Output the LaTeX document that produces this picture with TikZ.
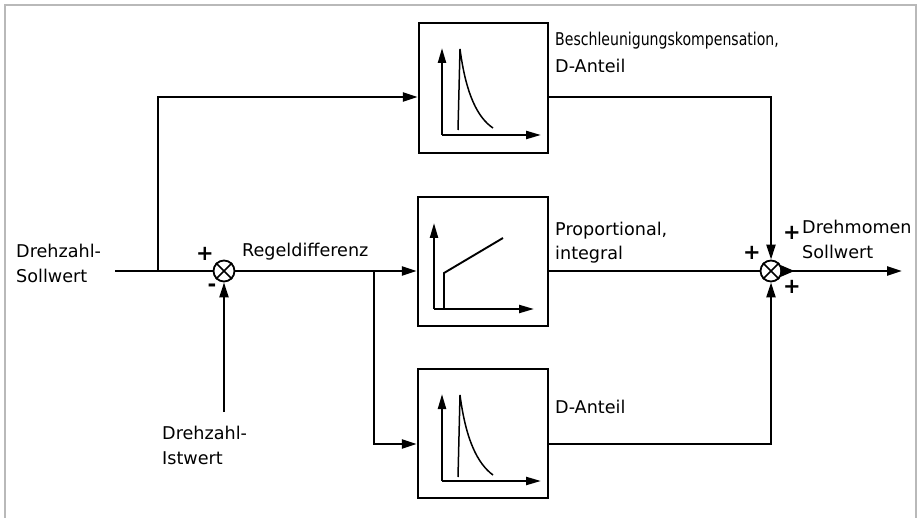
\documentclass[tikz,border=0pt]{standalone}
\usepackage{fontspec}
\usepackage{graphicx}
\setmainfont{DejaVu Sans}
\usetikzlibrary{arrows.meta}
\begin{document}
\begin{tikzpicture}[x=1pt,y=-1pt,
  line/.style={line width=2.2pt, line join=miter},
  arr/.style={line, -{Triangle[length=15pt,width=9pt]}},
  ax/.style={line width=2.2pt, -{Triangle[length=15pt,width=8pt]}},
  blk/.style={draw, line width=2.4pt, rectangle, inner sep=0pt},
  sumj/.style={draw, line width=1.8pt, circle, minimum size=21pt, inner sep=0pt},
  lbl/.style={anchor=base west, inner sep=0pt, font=\fontsize{17.6}{24}\selectfont},
  sgn/.style={inner sep=0pt, font=\fontsize{21}{21}\selectfont\bfseries}]
\useasboundingbox (0,0) rectangle (920,518);
\draw[gray!55, line width=2pt] (5,518) -- (5,5) -- (916,5) -- (916,518);

% blocks
\node[blk, minimum width=129pt, minimum height=130pt] (b1) at (483.5,88) {};
\node[blk, minimum width=130pt, minimum height=129pt] (b2) at (483,261.5) {};
\node[blk, minimum width=130pt, minimum height=129pt] (b3) at (483,433.5) {};

% summing junctions
\node[sumj] (s1) at (224,271) {};
\draw[line width=1.7pt] (s1.45) -- (s1.225) (s1.135) -- (s1.315);
\node[sumj] (s2) at (771,271) {};
\draw[line width=1.7pt] (s2.45) -- (s2.225) (s2.135) -- (s2.315);

% coordinates
\coordinate (in) at (115,271);
\coordinate (br1) at (158,271);
\coordinate (br2) at (374,271);
\coordinate (fb) at (224,412);
\coordinate (out) at (902,271);

% connectors
\draw[line] (in) -- (s1.west);
\draw[arr] (br1) |- (b1.west |- 0,97);
\draw[arr] (fb) -- (s1.south);
\draw[arr] (s1.east) -- (b2.west |- s1);
\draw[arr] (br2) |- (b3.west |- 0,444);
\draw[arr] (b1.east |- 0,97) -| (s2.north);
\draw[line] (b2.east |- s2) -- (s2.west);
\draw[arr] (b3.east |- 0,444) -| (s2.south);
\draw[arr] (s2.east) -- (out);
\fill (s2.east) ++(-2,-6) -- ++(14,6) -- ++(-14,6) -- cycle;

% graphs in blocks
\draw[ax] (442,135) -- (442,48);
\draw[ax] (442,135) -- (541,135);
\draw[line width=1.5pt] (458,130) -- (460,49) .. controls (466,95) and (478,118) .. (493,128);

\draw[ax] (434,309) -- (434,223);
\draw[ax] (434,309) -- (534,309);
\draw[line width=1.9pt] (444,309) -- (444,273) -- (503,238);

\draw[ax] (442,481) -- (442,394);
\draw[ax] (442,481) -- (541,481);
\draw[line width=1.5pt] (458,477) -- (460,395) .. controls (466,441) and (478,464) .. (493,475);

% labels
\node[lbl] (t1a) at (555,46) {\scalebox{0.8}[1]{Beschleunigungskompensation,}};
\node[lbl] (t1b) at (555,73) {D-Anteil};
\node[lbl] (t2a) at (555,236) {Proportional,};
\node[lbl] (t2b) at (555,260) {integral};
\node[lbl] (t3) at (555,413) {D-Anteil};
\node[lbl] (t4) at (242,257) {Regeldifferenz};
\node[lbl] (t5a) at (16,258) {Drehzahl-};
\node[lbl] (t5b) at (16,283) {Sollwert};
\node[lbl] (t6a) at (162,439) {Drehzahl-};
\node[lbl] (t6b) at (162,464) {Istwert};
\node[lbl] (t7a) at (802,234) {Drehmomen};
\node[lbl] (t7b) at (802,259) {Sollwert};

% signs
\node[sgn] (p1) at (205,254) {+};
\node[sgn] (m1) at (212,288) {-};
\node[sgn] (p2) at (752,253) {+};
\node[sgn] (p3) at (792,233) {+};
\node[sgn] (p4) at (792,287) {+};
\end{tikzpicture}
\end{document}
